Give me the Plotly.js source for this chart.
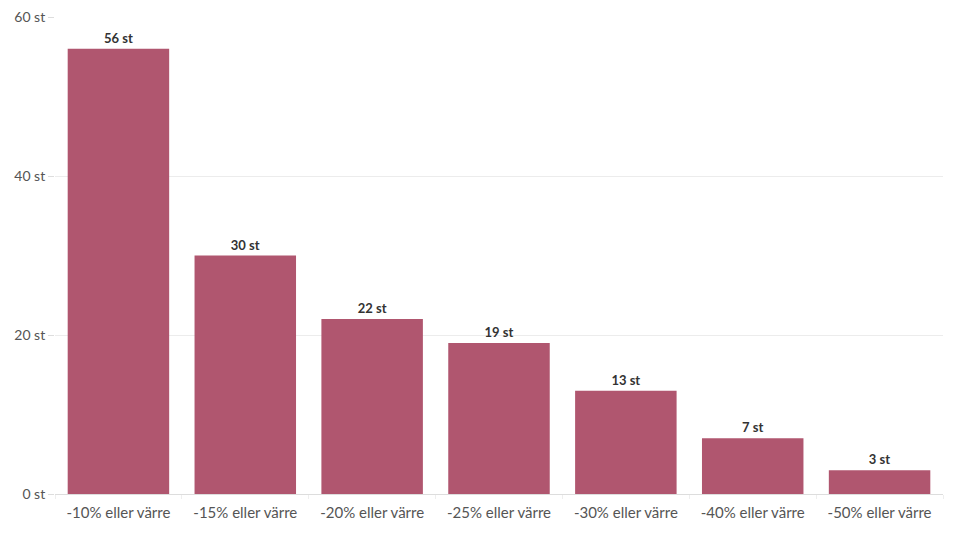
<!DOCTYPE html>
<html>
<head>
<meta charset="utf-8">
<script src="https://cdn.plot.ly/plotly-3.0.1.min.js"></script>
<style>
  html, body { margin: 0; padding: 0; background: #fff; }
  #chart { width: 960px; height: 540px; }
</style>
</head>
<body>
<div id="chart"></div>
<script>
// Category labels and counts
const categories = ['-10% eller värre', '-15% eller värre', '-20% eller värre', '-25% eller värre',
                    '-30% eller värre', '-40% eller värre', '-50% eller värre'];
const counts = [56, 30, 22, 19, 13, 7, 3];
const yTicks = [0, 20, 40, 60];
const yTickLabels = ['0 st', '20 st', '40 st', '60 st'];

const bars = {
    type: 'bar',
    x: categories,
    y: counts,
    marker: { color: '#b0566f' },
    text: counts.map(v => '<b>' + v + ' st</b>'),
    textposition: 'outside',
    textfont: { family: 'Lato, sans-serif', size: 13, color: '#333' },
    cliponaxis: false,
    hoverinfo: 'none'
};

const layout = {
    width: 960,
    height: 540,
    margin: { l: 55, r: 17, t: 17, b: 46 },
    paper_bgcolor: '#fff',
    plot_bgcolor: '#fff',
    bargap: 0.2,
    showlegend: false,
    font: { family: 'Lato, sans-serif', size: 14, color: '#555' },
    xaxis: {
        showgrid: false,
        showline: false,
        ticks: 'outside',
        ticklen: 4,
        tickcolor: '#eee',
        tickson: 'boundaries',
        ticklabelstandoff: 8,
        tickfont: { size: 15, color: '#555' }
    },
    yaxis: {
        range: [0, 60],
        tickvals: yTicks,
        ticktext: yTickLabels,
        gridcolor: '#ececec',
        zeroline: true,
        zerolinecolor: '#ddd',
        ticks: 'outside',
        ticklen: 6,
        tickcolor: '#ddd',
        tickfont: { size: 14, color: '#555' }
    }
};

Plotly.newPlot('chart', [bars], layout, { displayModeBar: false, staticPlot: true });
</script>
</body>
</html>
